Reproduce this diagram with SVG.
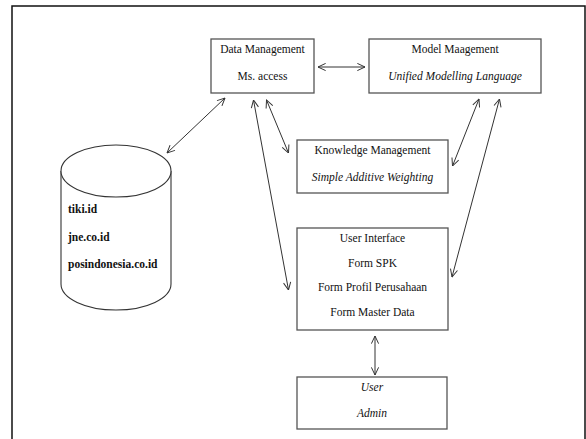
<svg xmlns="http://www.w3.org/2000/svg" width="586" height="439" viewBox="0 0 586 439">
<style>
.box{fill:#fff;stroke:#555;stroke-width:1.3}
.t{font-family:"Liberation Serif","Times New Roman",serif;font-size:11.5px;fill:#111;text-anchor:middle}
.i{font-style:italic}
.b{font-weight:bold;text-anchor:start}
.c{fill:none;stroke:#333;stroke-width:1;marker-start:url(#ah);marker-end:url(#ah)}
</style>
<defs>
<marker id="ah" viewBox="0 0 10 10" refX="9.5" refY="5" markerWidth="9" markerHeight="9" markerUnits="userSpaceOnUse" orient="auto-start-reverse">
<path d="M1,1 L9.5,5 L1,9" fill="none" stroke="#333" stroke-width="1.1"/>
</marker>
</defs>
<rect x="0" y="0" width="586" height="439" fill="#fff"/>
<path d="M12,439 L12,6 L585,6 L585,439" fill="none" stroke="#111" stroke-width="1.5"/>
<g id="data-management">
<rect class="box" x="211" y="39" width="103" height="54"/>
<text class="t" x="262.5" y="53">Data Management</text>
<text class="t" x="262.5" y="80">Ms. access</text>
</g>
<g id="model-management">
<rect class="box" x="369" y="39" width="172" height="54"/>
<text class="t" x="455" y="53">Model Maagement</text>
<text class="t i" x="455" y="80">Unified Modelling Language</text>
</g>
<g id="knowledge-management">
<rect class="box" x="297" y="140" width="151" height="53"/>
<text class="t" x="372.5" y="154">Knowledge Management</text>
<text class="t i" x="372.5" y="181">Simple Additive Weighting</text>
</g>
<g id="user-interface">
<rect class="box" x="297" y="228" width="151" height="102"/>
<text class="t" x="372.5" y="242">User Interface</text>
<text class="t" x="372.5" y="267">Form SPK</text>
<text class="t" x="372.5" y="291">Form Profil Perusahaan</text>
<text class="t" x="372.5" y="316">Form Master Data</text>
</g>
<g id="user">
<rect class="box" x="297" y="377" width="150" height="52"/>
<text class="t i" x="372" y="391">User</text>
<text class="t i" x="372" y="417">Admin</text>
</g>
<g id="database">
<path d="M61,171 L61,284 A55,26 0 0 0 171,284 L171,171" fill="#fff" stroke="#333" stroke-width="1.1"/>
<ellipse cx="116" cy="171" rx="55" ry="26" fill="#fff" stroke="#333" stroke-width="1.1"/>
<text class="t b" x="68" y="213">tiki.id</text>
<text class="t b" x="68" y="241">jne.co.id</text>
<text class="t b" x="68" y="268">posindonesia.co.id</text>
</g>
<g id="connectors">
<line class="c" x1="318" y1="67" x2="365" y2="67"/>
<line class="c" x1="167" y1="153" x2="225" y2="98"/>
<line class="c" x1="266.5" y1="100" x2="288.5" y2="153"/>
<line class="c" x1="253.5" y1="100" x2="288.5" y2="290"/>
<line class="c" x1="479" y1="99" x2="452.5" y2="166"/>
<line class="c" x1="499.5" y1="99" x2="452" y2="277"/>
<line class="c" x1="375" y1="336" x2="375" y2="375"/>
</g>
</svg>
